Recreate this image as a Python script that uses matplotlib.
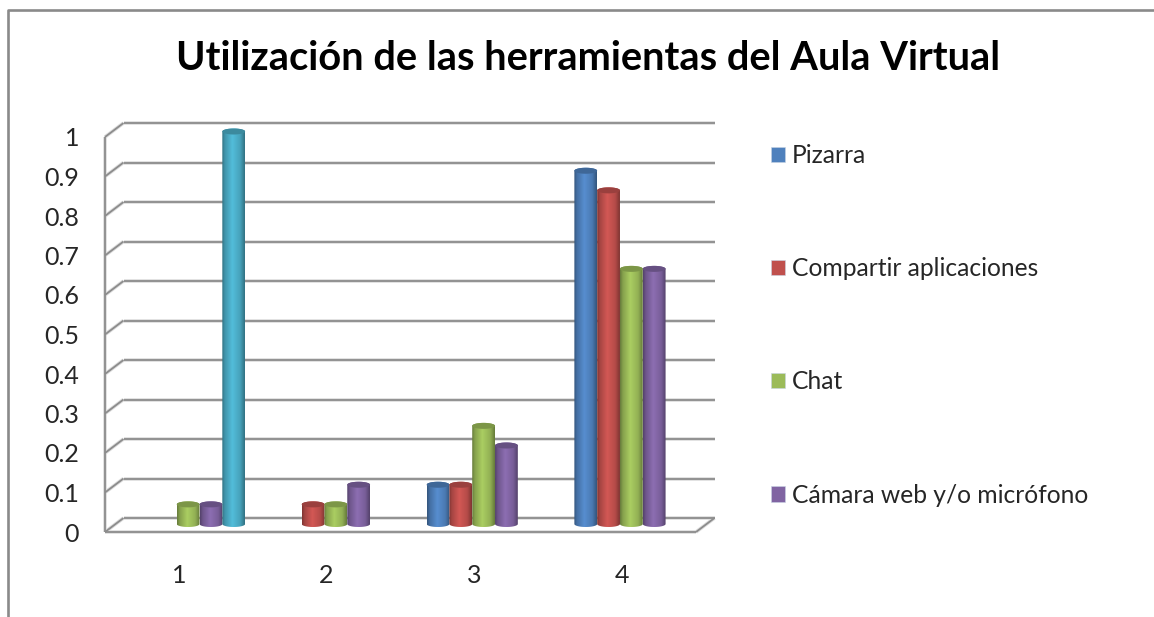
import numpy as np
import matplotlib
matplotlib.use("Agg")
import matplotlib.pyplot as plt
from matplotlib.colors import to_rgb
from matplotlib.lines import Line2D
from matplotlib.patches import Patch, PathPatch
from matplotlib.path import Path

categories = [1, 2, 3, 4]
pizarra = [0, 0, 0.1, 0.9]
compartir = [0, 0.05, 0.1, 0.85]
chat = [0.05, 0.05, 0.25, 0.65]
camara = [0.05, 0.1, 0.2, 0.65]
sin_leyenda = [1, 0, 0, 0]
y_ticks = [0, 0.1, 0.2, 0.3, 0.4, 0.5, 0.6, 0.7, 0.8, 0.9, 1]
y_labels = ["0", "0.1", "0.2", "0.3", "0.4", "0.5", "0.6", "0.7", "0.8", "0.9", "1"]
names = ["Pizarra", "Compartir aplicaciones", "Chat", "Cámara web y/o micrófono"]
colors = ["#4F81BD", "#C0504D", "#9BBB59", "#8064A2", "#4BACC6"]

W, H = 1154, 617
plt.rcParams["font.family"] = ["Lato", "DejaVu Sans"]
GRID = "#8c8c8c"
TEXT = "#262626"

fig = plt.figure(figsize=(W / 100, H / 100), dpi=100)
ax = fig.add_axes([105 / W, 1 - 532 / H, 591 / W, 395 / H])
ax.set_xlim(0.5, 4.5)
ax.set_ylim(0, 1)

# depth of the fake 3d box, in data units
dx = 18.5 / 147.75
dy = 14 / 395
ell = 3 / 395
base = 8 / 395
depth_scale = 392.5 / 395


def wall(xs, ys):
    ax.plot(xs, ys, color="#dcdcdc", lw=2.6, clip_on=False, zorder=1, solid_capstyle="butt")
    ax.plot(xs, ys, color=GRID, lw=1.3, clip_on=False, zorder=1.1, solid_capstyle="butt")


for v in y_ticks:
    wall([0.5 + dx, 4.5 + dx], [v + dy, v + dy])
    wall([0.5, 0.5 + dx], [v, v + dy])
wall([4.5, 4.5 + dx], [0, dy])
wall([0.5, 4.5], [0, 0])
wall([0.5, 0.5], [0, 1])


def cylinder(x0, x1, v, color, z):
    # body path with elliptical bottom, top is closed by the cap
    xc = (x0 + x1) / 2
    a = (x1 - x0) / 2
    h = v * depth_scale
    t = np.linspace(0, np.pi, 40)
    xs = np.r_[xc - a * np.cos(t), xc + a * np.cos(t)]
    ys = np.r_[base - ell * np.sin(t), base + h + ell * np.sin(t)]
    clip = PathPatch(Path(np.c_[xs, ys]), transform=ax.transData, fc="none", ec="none")
    ax.add_patch(clip)
    clip.set_clip_on(False)

    base_rgb = np.array(to_rgb(color))
    u = np.linspace(0, 1, 60)
    shade = np.interp(u, [0, 0.12, 0.45, 0.8, 1], [0.66, 0.86, 1.1, 0.94, 0.66])
    img = np.clip(base_rgb[None, None, :] * shade[None, :, None], 0, 1)
    im = ax.imshow(img, extent=[x0, x1, base - 2 * ell, base + h + 2 * ell],
                   aspect="auto", zorder=z, interpolation="bilinear")
    im.set_clip_box(fig.bbox)
    im.set_clip_path(clip)

    cap_x = xc + a * np.cos(np.linspace(0, 2 * np.pi, 60))
    cap_y = base + h + ell * np.sin(np.linspace(0, 2 * np.pi, 60))
    ax.fill(cap_x, cap_y, color=base_rgb * 0.8, zorder=z + 0.1, clip_on=False, lw=0)


series = [pizarra, compartir, chat, camara, sin_leyenda]
bar_w = 22.8 / 147.75
for i, vals in enumerate(series):
    for c, v in zip(categories, vals):
        if v == 0:
            continue
        x0 = c + dx / 2 + (i - 2.5) * bar_w
        cylinder(x0, x0 + bar_w, v, colors[i], 3 + i)

ax.set_xlim(0.5, 4.5)
ax.set_ylim(0, 1)
for s in ax.spines.values():
    s.set_visible(False)

ax.set_xticks(categories)
ax.set_xticklabels(categories, fontsize=18, color=TEXT)
ax.set_yticks(y_ticks)
ax.set_yticklabels(y_labels, fontsize=18, color=TEXT)
ax.tick_params(axis="x", length=0, pad=23)
ax.tick_params(axis="y", length=0, pad=18.7)

handles = [Patch(facecolor=colors[i], edgecolor="#c8d4e4", lw=0.4, label=names[i]) for i in range(4)]
fig.legend(handles=handles, loc="upper left", bbox_to_anchor=(771 / W, 1 - 144 / H),
           frameon=False, fontsize=17.75, labelcolor=TEXT, handlelength=0.57, handleheight=0.57,
           handletextpad=0.28, labelspacing=3.66, borderpad=0, borderaxespad=0)

fig.text(588.5 / W, 1 - 59 / H, "Utilización de las herramientas del Aula Virtual",
         ha="center", va="center", fontsize=28.75, fontweight="bold", color="black")

# outer frame of the chart, only top and left are in the picture
fig.add_artist(Line2D([7.5 / W, 7.5 / W, 1], [0, 1 - 9.5 / H, 1 - 9.5 / H], color="#8a8a8a", lw=1.9))

fig.savefig("out.png", dpi=100)
